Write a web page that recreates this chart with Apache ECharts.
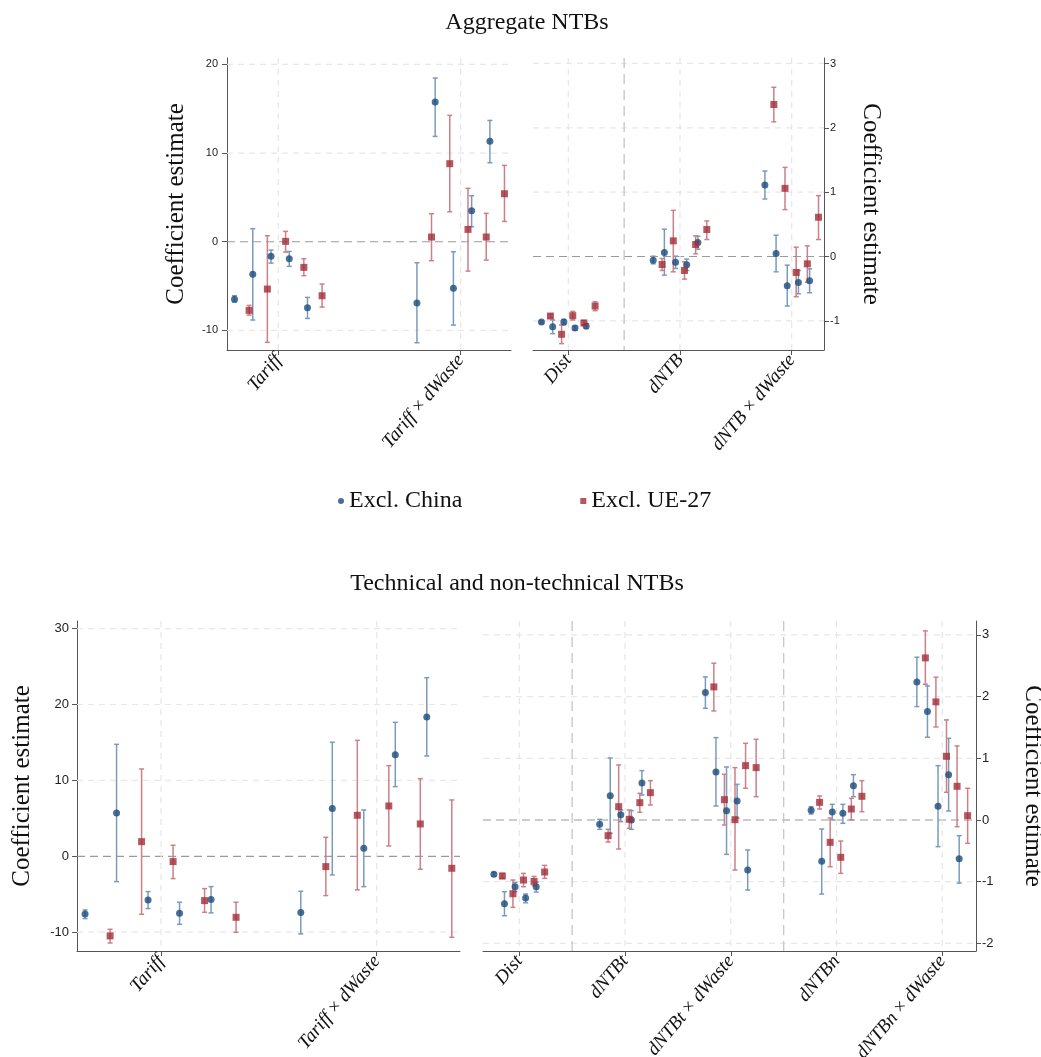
<!DOCTYPE html>
<html lang="en">
<head>
  <meta charset="UTF-8">
  <title>Coefficient plots - NTBs</title>
  <style>
    * { margin: 0; padding: 0; }
    body { background: #ffffff; }
    #chart { width: 1041px; height: 1057px; }
  </style>
</head>
<body>
<div id="chart"></div>
<script src="https://cdn.jsdelivr.net/npm/echarts@6/dist/echarts.min.js"></script>
<script>
  // ---- data: [estimate, ci low, ci high], 5 models per regressor ----
  var aggLeftCats = ['Tariff', 'Tariff × dWaste'];
  var aggLeftTicks = [-10, 0, 10, 20];
  var aggLeftChina = [
    [-6.50, -6.80, -6.09], [-3.68, -8.83, 1.47], [-1.65, -2.41, -0.94], [-1.92, -2.78, -1.09], [-7.44, -8.65, -6.28],
    [-6.92, -11.39, -2.37], [15.75, 11.88, 18.46], [-5.26, -9.40, -1.13], [3.50, 1.69, 5.19], [11.32, 8.91, 13.68]
  ];
  var aggLeftUE = [
    [-7.74, -8.27, -7.18], [-5.34, -11.35, 0.68], [0.04, -1.17, 1.17], [-2.89, -3.83, -1.92], [-6.09, -7.37, -4.77],
    [0.53, -2.14, 3.16], [8.80, 3.38, 14.25], [1.39, -3.31, 6.02], [0.53, -2.07, 3.20], [5.41, 2.29, 8.61]
  ];

  var aggRightCats = ['Dist', 'dNTB', 'dNTB × dWaste'];
  var aggRightTicks = [-1, 0, 1, 2, 3];
  var aggRightChina = [
    [-1.018, -1.040, -0.998], [-1.090, -1.199, -0.987], [-1.018, -1.059, -0.977], [-1.111, -1.142, -1.080], [-1.080, -1.121, -1.044],
    [-0.057, -0.114, 0.005], [0.062, -0.289, 0.424], [-0.088, -0.186, 0.005], [-0.129, -0.217, -0.041], [0.217, 0.114, 0.315],
    [1.111, 0.894, 1.328], [0.047, -0.238, 0.331], [-0.455, -0.770, -0.134], [-0.403, -0.579, -0.217], [-0.377, -0.563, -0.191]
  ];
  var aggRightUE = [
    [-0.925, -0.951, -0.899], [-1.209, -1.354, -1.065], [-0.920, -0.987, -0.853], [-1.034, -1.065, -0.992], [-0.770, -0.842, -0.703],
    [-0.124, -0.217, -0.031], [0.243, -0.238, 0.718], [-0.217, -0.351, -0.083], [0.186, 0.041, 0.320], [0.419, 0.264, 0.553],
    [2.362, 2.093, 2.630], [1.059, 0.729, 1.385], [-0.248, -0.625, 0.145], [-0.114, -0.398, 0.165], [0.610, 0.264, 0.946]
  ];

  var techLeftCats = ['Tariff', 'Tariff × dWaste'];
  var techLeftTicks = [-10, 0, 10, 20, 30];
  var techLeftChina = [
    [-7.60, -8.21, -7.07], [5.71, -3.34, 14.75], [-5.75, -6.89, -4.65], [-7.51, -8.96, -6.06], [-5.71, -7.46, -4.00],
    [-7.42, -10.23, -4.61], [6.28, -2.46, 15.02], [1.05, -4.00, 6.10], [13.39, 9.18, 17.65], [18.35, 13.22, 23.53]
  ];
  var techLeftUE = [
    [-10.49, -11.42, -9.62], [1.93, -7.64, 11.50], [-0.70, -2.94, 1.45], [-5.84, -7.38, -4.26], [-8.04, -10.01, -6.06],
    [-1.36, -5.18, 2.50], [5.40, -4.43, 15.28], [6.63, 1.36, 11.94], [4.26, -1.71, 10.23], [-1.58, -10.67, 7.42]
  ];

  var techRightCats = ['Dist', 'dNTBt', 'dNTBt × dWaste', 'dNTBn', 'dNTBn × dWaste'];
  var techRightTicks = [-2, -1, 0, 1, 2, 3];
  var techRightChina = [
    [-0.881, -0.910, -0.850], [-1.357, -1.551, -1.162], [-1.081, -1.162, -1.011], [-1.265, -1.341, -1.200], [-1.081, -1.168, -1.005],
    [-0.070, -0.151, 0.011], [0.395, -0.216, 1.005], [0.086, -0.027, 0.162], [0.000, -0.151, 0.151], [0.600, 0.405, 0.800],
    [2.065, 1.811, 2.319], [0.778, 0.227, 1.335], [0.151, -0.557, 0.859], [0.308, 0.030, 0.578], [-0.811, -1.135, -0.486],
    [0.157, 0.097, 0.216], [-0.670, -1.200, -0.146], [0.130, 0.000, 0.254], [0.108, -0.054, 0.254], [0.557, 0.378, 0.735],
    [2.238, 1.838, 2.638], [1.757, 1.341, 2.173], [0.222, -0.432, 0.881], [0.735, 0.146, 1.324], [-0.627, -1.022, -0.254]
  ];
  var techRightUE = [
    [-0.908, -0.946, -0.865], [-1.195, -1.416, -0.973], [-0.973, -1.081, -0.865], [-0.995, -1.065, -0.914], [-0.843, -0.946, -0.735],
    [-0.254, -0.357, -0.151], [0.216, -0.470, 0.892], [0.011, -0.135, 0.162], [0.281, 0.124, 0.432], [0.443, 0.243, 0.638],
    [2.157, 1.768, 2.541], [0.330, -0.081, 0.741], [0.005, -0.811, 0.849], [0.881, 0.514, 1.243], [0.849, 0.378, 1.308],
    [0.286, 0.178, 0.389], [-0.362, -0.757, 0.032], [-0.605, -0.865, -0.341], [0.178, 0.000, 0.351], [0.384, 0.135, 0.638],
    [2.627, 2.200, 3.065], [1.914, 1.508, 2.314], [1.032, 0.449, 1.622], [0.546, -0.108, 1.200], [0.070, -0.378, 0.514]
  ];

  var serif = "'Liberation Serif', 'DejaVu Serif', serif";
  var sans = "'Liberation Sans', Arial, sans-serif";
  var BLUE = '#1c4b7a', BLUE_CI = '#7b9bbd';
  var RED = '#a22d38', RED_CI = '#cc8087';

  // layout of the four panels
  var panels = [
    { grid: { left: 227, top: 58, width: 284, height: 292 }, x: [0.7187, 2.2758], y: [-12.21, 20.72],
      cats: aggLeftCats, ticks: aggLeftTicks, china: aggLeftChina, ue: aggLeftUE,
      side: 'left', seps: [], tickFont: 11, labelMargin: 9, nameGap: 38, off: [-0.24, -0.16, 0.1] },
    { grid: { left: 533, top: 58, width: 291, height: 292 }, x: [0.684, 3.289], y: [-1.453, 3.085],
      cats: aggRightCats, ticks: aggRightTicks, china: aggRightChina, ue: aggRightUE,
      side: 'right', seps: [1.5], tickFont: 11, labelMargin: 6, nameGap: 34, off: [-0.24, -0.16, 0.1] },
    { grid: { left: 77, top: 621, width: 383, height: 330 }, x: [0.6106, 2.386], y: [-12.48, 31.0],
      cats: techLeftCats, ticks: techLeftTicks, china: techLeftChina, ue: techLeftUE,
      side: 'left', seps: [], tickFont: 13, labelMargin: 8, nameGap: 42, off: [-0.352, -0.236, 0.146] },
    { grid: { left: 483, top: 621, width: 493, height: 330 }, x: [0.657, 5.319], y: [-2.123, 3.225],
      cats: techRightCats, ticks: techRightTicks, china: techRightChina, ue: techRightUE,
      side: 'right', seps: [1.5, 3.5], tickFont: 13, labelMargin: 6, nameGap: 44, off: [-0.24, -0.16, 0.1] }
  ];

  var rich = {
    v: { fontFamily: serif, fontStyle: 'italic', fontSize: 19, color: '#111' },
    m: { fontFamily: serif, fontSize: 19, color: '#111' }
  };
  function catLabel(name) {
    return name.split(' × ').map(function (s) { return '{v|' + s + '}'; }).join('{m| × }');
  }

  // gridlines: [x, y, kind]  kind 0 = light horizontal, 1 = zero line, 2 = category line, 3 = separator
  function gridRender(params, api) {
    var cs = params.coordSys;
    var kind = api.value(2);
    var p = api.coord([api.value(0), api.value(1)]);
    var shape, style;
    if (kind < 2) {
      shape = { x1: cs.x, y1: p[1], x2: cs.x + cs.width, y2: p[1] };
    } else {
      shape = { x1: p[0], y1: cs.y, x2: p[0], y2: cs.y + cs.height };
    }
    if (kind === 0) style = { stroke: '#e8e8e8', lineWidth: 1.2, lineDash: [6, 5] };
    else if (kind === 1) style = { stroke: '#9a9a9a', lineWidth: 1.2, lineDash: [8, 5] };
    else if (kind === 2) style = { stroke: '#e6e6e6', lineWidth: 1.2, lineDash: [6, 5] };
    else style = { stroke: '#c9c9c9', lineWidth: 1.4, lineDash: [10, 6] };
    return { type: 'line', shape: shape, style: style, silent: true };
  }

  function ciRender(color) {
    return function (params, api) {
      var x = api.value(0);
      var lo = api.coord([x, api.value(2)]);
      var hi = api.coord([x, api.value(3)]);
      var c = 2.5;
      var st = { stroke: color, lineWidth: 1.5 };
      return {
        type: 'group',
        children: [
          { type: 'line', shape: { x1: lo[0], y1: lo[1], x2: hi[0], y2: hi[1] }, style: st },
          { type: 'line', shape: { x1: lo[0] - c, y1: lo[1], x2: lo[0] + c, y2: lo[1] }, style: st },
          { type: 'line', shape: { x1: hi[0] - c, y1: hi[1], x2: hi[0] + c, y2: hi[1] }, style: st }
        ]
      };
    };
  }

  var grids = [], xAxes = [], yAxes = [], series = [];

  panels.forEach(function (p, k) {
    var pos = p.cats.map(function (c, i) { return i + 1; });
    var g = Object.assign({ outerBoundsMode: 'none', containLabel: false }, p.grid);
    grids.push(g);

    xAxes.push({
      type: 'value', gridIndex: k, min: p.x[0], max: p.x[1],
      axisLine: { show: true, onZero: false, lineStyle: { color: '#555', width: 1 } },
      axisTick: { show: true, customValues: pos, length: 5, lineStyle: { color: '#555' } },
      axisLabel: {
        customValues: pos, rotate: 50, margin: 7, rich: rich,
        formatter: function (v) { return catLabel(p.cats[Math.round(v) - 1]); }
      },
      splitLine: { show: false }
    });

    yAxes.push({
      type: 'value', gridIndex: k, position: p.side, min: p.y[0], max: p.y[1],
      axisLine: { show: true, onZero: false, lineStyle: { color: '#555', width: 1 } },
      axisTick: { show: true, customValues: p.ticks, length: 5, lineStyle: { color: '#555' } },
      axisLabel: { customValues: p.ticks, margin: p.labelMargin, fontFamily: sans, fontSize: p.tickFont, color: '#222' },
      splitLine: { show: false },
      name: 'Coefficient estimate', nameLocation: 'middle', nameGap: p.nameGap,
      nameRotate: p.side === 'right' ? -90 : 90,
      nameTextStyle: { fontFamily: serif, fontSize: 25, color: '#111' }
    });

    // gridlines
    var gl = [];
    p.ticks.forEach(function (t) { gl.push([p.x[0], t, t === 0 ? 1 : 0]); });
    pos.forEach(function (c) { gl.push([c, p.y[0], 2]); });
    p.seps.forEach(function (s) { gl.push([s, p.y[0], 3]); });
    series.push({
      type: 'custom', name: 'grid' + k, xAxisIndex: k, yAxisIndex: k, z: 1,
      renderItem: gridRender, data: gl, silent: true, animation: false
    });

    // point positions: category + model offset
    function pts(arr, start) {
      return arr.map(function (d, i) {
        var grp = Math.floor(i / 5), m = i % 5;
        return [grp + 1 + start + p.off[2] * m, d[0], d[1], d[2]];
      });
    }
    var chinaPts = pts(p.china, p.off[0]);
    var uePts = pts(p.ue, p.off[1]);

    series.push({
      type: 'custom', name: 'ciChina' + k, xAxisIndex: k, yAxisIndex: k, z: 2,
      renderItem: ciRender(BLUE_CI), encode: { x: 0, y: [2, 3] }, data: chinaPts, silent: true
    });
    series.push({
      type: 'custom', name: 'ciUE' + k, xAxisIndex: k, yAxisIndex: k, z: 2,
      renderItem: ciRender(RED_CI), encode: { x: 0, y: [2, 3] }, data: uePts, silent: true
    });
    series.push({
      type: 'scatter', name: 'Excl. China', xAxisIndex: k, yAxisIndex: k, z: 3,
      symbol: 'circle', symbolSize: 7, itemStyle: { color: BLUE },
      data: chinaPts.map(function (d) { return [d[0], d[1]]; })
    });
    series.push({
      type: 'scatter', name: 'Excl. UE-27', xAxisIndex: k, yAxisIndex: k, z: 3,
      symbol: 'rect', symbolSize: 7, itemStyle: { color: RED },
      data: uePts.map(function (d) { return [d[0], d[1]]; })
    });
  });

  var chart = echarts.init(document.getElementById('chart'));
  chart.setOption({
    animation: false,
    backgroundColor: '#ffffff',
    title: [
      { text: 'Aggregate NTBs', left: 522, top: 6, textAlign: 'center',
        textStyle: { fontFamily: serif, fontSize: 24, fontWeight: 'normal', color: '#111' } },
      { text: 'Technical and non-technical NTBs', left: 512, top: 567, textAlign: 'center',
        textStyle: { fontFamily: serif, fontSize: 24, fontWeight: 'normal', color: '#111' } }
    ],
    legend: {
      data: [{ name: 'Excl. China', icon: 'circle' }, { name: 'Excl. UE-27', icon: 'rect' }],
      left: 333, top: 484, itemWidth: 6, itemHeight: 6, itemGap: 118,
      textStyle: { fontFamily: serif, fontSize: 24, color: '#111' }
    },
    grid: grids,
    xAxis: xAxes,
    yAxis: yAxes,
    series: series
  });
</script>
</body>
</html>
